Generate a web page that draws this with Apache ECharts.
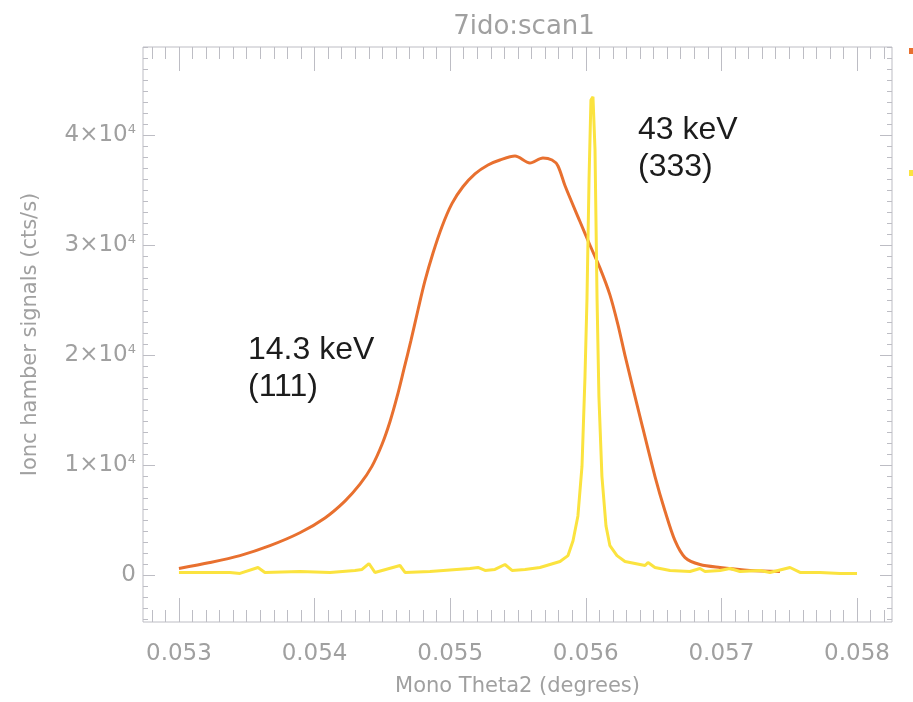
<!DOCTYPE html>
<html><head><meta charset="utf-8">
<script src="https://cdn.jsdelivr.net/npm/echarts@6/dist/echarts.min.js"></script>
<style>html,body{margin:0;padding:0;background:#fff}#c{width:913px;height:702px}</style>
</head><body><div id="c"></div>
<script>
// ---- data ----
const thetaOrange = [0.05300,0.053229,0.053450,0.053671,0.053892,0.054077,0.054224,0.054335,0.054423,0.054497,0.054556,0.054608,0.054659,0.054711,0.054763,0.054814,0.054873,0.054940,0.055013,0.055094,0.055183,0.055279,0.055367,0.055478,0.055588,0.055684,0.055751,0.055795,0.055847,0.055957,0.056031,0.056105,0.056178,0.056237,0.056289,0.056400,0.056510,0.056584,0.056658,0.056732,0.056842,0.056990,0.057211,0.057432];
const countsOrange = [631,1171,1802,2703,3874,5225,6757,8288,9910,11892,13964,16216,18739,21351,24144,26757,29279,31712,33784,35315,36486,37297,37748,38108,37477,37928,37748,37207,35405,32162,30000,27928,25495,22793,20000,14414,9009,5856,3153,1622,991,721,450,360];
const thetaYellow = [0.053000,0.053155,0.053376,0.053450,0.053583,0.053634,0.053892,0.054114,0.054298,0.054350,0.054401,0.054445,0.054630,0.054667,0.054851,0.055146,0.055205,0.055257,0.055330,0.055404,0.055456,0.055552,0.055662,0.055736,0.055810,0.055869,0.055906,0.055942,0.055972,0.055994,0.056009,0.056024,0.056038,0.056053,0.056068,0.056083,0.056097,0.056119,0.056149,0.056178,0.056230,0.056289,0.056363,0.056437,0.056459,0.056510,0.056621,0.056768,0.056842,0.056879,0.056990,0.057063,0.057137,0.057285,0.057358,0.057506,0.057580,0.057727,0.057875,0.058000];
const countsYellow = [270,270,270,180,720,270,360,270,450,540,1080,270,900,270,360,630,720,450,540,990,450,540,720,990,1260,1800,3150,5400,9900,18000,25200,36000,43200,43500,38700,25200,16200,9000,4500,2700,1800,1260,1080,900,1170,720,450,360,630,360,450,630,360,450,270,720,270,270,180,180];
const xTickValues = [0.053,0.054,0.055,0.056,0.057,0.058];
const xTickLabels = ['0.053','0.054','0.055','0.056','0.057','0.058'];
const yTickValues = [0,10000,20000,30000,40000];
const yTickLabels = ['0','1×10{s|4}','2×10{s|4}','3×10{s|4}','4×10{s|4}'];
const seriesNames = ['14.3 keV (111)','43 keV (333)'];
const titleText = '7ido:scan1';
const xName = 'Mono Theta2 (degrees)';
const yName = 'Ionc hamber signals (cts/s)';

// ---- layout/styles ----
const XMIN = 0.052735, XMAX = 0.058258, YMIN = -4234, YMAX = 48018;
const xMinor = []; for (let i = 528; i <= 582; i++) if (i % 10 !== 0) xMinor.push(i / 10000);
const yMinor = []; for (let i = -4; i <= 48; i++) if (i % 10 !== 0) yMinor.push(i * 1000);
const frameCol = '#bdbdc4', txtCol = '#a0a0a0';
const font = 'DejaVu Sans';

function pairs(xs, ys){ return xs.map((x,i)=>[x, ys[i]]); }
function xAx(pos, ticks, len, labels){
  return {type:'value', position:pos, min:XMIN, max:XMAX, gridIndex:0,
    axisLine:{show:false, onZero:false}, splitLine:{show:false},
    axisTick:{show:true, inside:true, length:len, customValues:ticks, lineStyle:{color:frameCol, width:1}},
    axisLabel: labels ? {show:true, customValues:xTickValues, margin:21, color:txtCol, fontFamily:font, fontSize:23,
      formatter:v=>{const i=xTickValues.findIndex(t=>Math.abs(t-v)<1e-9); return i>=0?xTickLabels[i]:'';}} : {show:false}};
}
function yAx(pos, ticks, len, labels){
  return {type:'value', position:pos, min:YMIN, max:YMAX, gridIndex:0,
    axisLine:{show:false, onZero:false}, splitLine:{show:false},
    axisTick:{show:true, inside:true, length:len, customValues:ticks, lineStyle:{color:frameCol, width:1}},
    axisLabel: labels ? {show:true, customValues:yTickValues, margin:7, color:txtCol, fontFamily:font, fontSize:23,
      formatter:v=>{const i=yTickValues.findIndex(t=>Math.abs(t-v)<1e-6); return i>=0?yTickLabels[i]:'';},
      rich:{s:{fontSize:13, color:txtCol, fontFamily:font, verticalAlign:'top', padding:[0,0,12,0]}}} : {show:false}};
}
const xAxes = [xAx('bottom', xTickValues, 24, true), xAx('bottom', xMinor, 12, false), xAx('top', xTickValues, 24, false), xAx('top', xMinor, 12, false)];
Object.assign(xAxes[0], {name:xName, nameLocation:'middle', nameGap:54, nameTextStyle:{color:txtCol, fontFamily:font, fontSize:21}});
const yAxes = [yAx('left', yTickValues, 12, true), yAx('left', yMinor, 5, false), yAx('right', yTickValues, 12, false), yAx('right', yMinor, 5, false)];
Object.assign(yAxes[0], {name:yName, nameLocation:'middle', nameGap:102, nameTextStyle:{color:txtCol, fontFamily:font, fontSize:21}});

const chart = echarts.init(document.getElementById('c'), null, {renderer:'canvas'});
chart.setOption({
  backgroundColor:'#ffffff',
  animation:false,
  title:{text:titleText, left:519, textAlign:'center', top:9, textStyle:{color:txtCol, fontFamily:font, fontSize:26, fontWeight:'normal'}},
  grid:{left:143, right:21, top:47, bottom:75, show:true, borderColor:frameCol, borderWidth:1, backgroundColor:'transparent'},
  legend:{orient:'vertical', left:904, top:39, itemWidth:14, itemHeight:6, itemGap:108, icon:'rect',
    textStyle:{fontSize:12, lineHeight:14, color:txtCol}, data:seriesNames},
  xAxis:xAxes, yAxis:yAxes,
  series:[
    {name:seriesNames[0], type:'line', xAxisIndex:0, yAxisIndex:0, data:pairs(thetaOrange,countsOrange), showSymbol:false, smooth:0.3,
     lineStyle:{color:'#e8702f', width:3}, itemStyle:{color:'#e8702f'}, z:2},
    {name:seriesNames[1], type:'line', xAxisIndex:0, yAxisIndex:0, data:pairs(thetaYellow,countsYellow), showSymbol:false,
     lineStyle:{color:'#fbe33f', width:3}, itemStyle:{color:'#fbe33f'}, z:3}
  ],
  graphic:[
    {type:'text', left:248, top:332, style:{text:'14.3 keV\n(111)', font:'32px "Liberation Sans"', lineHeight:37, fill:'#1c1c1c'}},
    {type:'text', left:638, top:112, style:{text:'43 keV\n(333)', font:'32px "Liberation Sans"', lineHeight:37, fill:'#1c1c1c'}}
  ]
});
</script></body></html>
